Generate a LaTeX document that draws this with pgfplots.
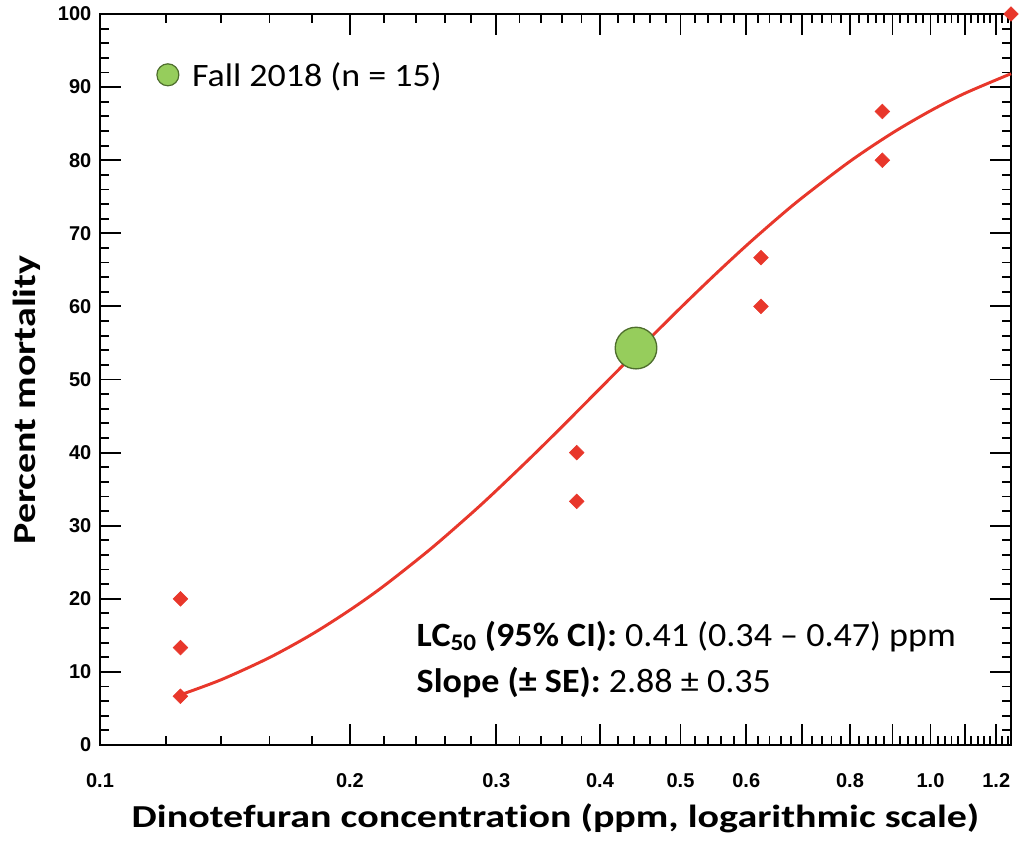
\documentclass[border=0pt]{standalone}
\usepackage{fontspec}
\setmainfont{Carlito}[Ligatures=CommonOff]
\newfontfamily\labelfont{Carlito}[Ligatures=CommonOff, FakeStretch=1.25]
\newfontfamily\legendfont{Carlito}[Ligatures=CommonOff, FakeStretch=1.1]
\newfontfamily\notefont{Carlito}[Ligatures=CommonOff, FakeStretch=1.06]
\newfontfamily\tickfont{Liberation Sans}
\usepackage{pgfplots}
\pgfplotsset{compat=1.18}
\definecolor{ptred}{RGB}{232,55,43}
\definecolor{ptgreen}{RGB}{150,205,92}
\definecolor{ptgreenedge}{RGB}{78,110,45}

\begin{document}
\begin{tikzpicture}
\begin{axis}[
  at={(0,0)}, anchor=south west,
  scale only axis, width=683.25pt, height=548.25pt,
  xmode=log, xmin=0.1, xmax=1.25, ymin=0, ymax=100,
  clip=false,
  axis line style={line width=2pt},
  tick style={line width=1.4pt, black},
  tick align=inside,
  major tick length=16pt, minor tick length=7pt,
  xtick={0.1,0.2,0.3,0.4,0.5,0.6,0.7,0.8,0.9,1.0,1.1,1.2},
  xticklabels={0.1,0.2,0.3,0.4,0.5,0.6,,0.8,,1.0,,1.2},
  minor xtick={0.12,0.14,0.16,0.18,0.22,0.24,0.26,0.28,0.32,0.34,0.36,0.38,
    0.42,0.44,0.46,0.48,0.52,0.54,0.56,0.58,0.62,0.64,0.66,0.68,0.72,0.74,0.76,0.78,
    0.82,0.84,0.86,0.88,0.92,0.94,0.96,0.98,1.02,1.04,1.06,1.08,1.12,1.14,1.16,1.18,1.22,1.24},
  ytick={0,10,...,100},
  minor ytick={2,4,6,8,12,14,16,18,22,24,26,28,32,34,36,38,42,44,46,48,52,54,56,58,
    62,64,66,68,72,74,76,78,82,84,86,88,92,94,96,98},
  /pgf/number format/assume math mode=true,
  ticklabel style={font=\tickfont\bfseries\fontsize{15}{17}\selectfont},
  yticklabel style={xshift=-3pt},
  xticklabel style={yshift=-18pt},
  xlabel={Dinotefuran concentration (ppm, logarithmic scale)},
  ylabel={Percent mortality},
  label style={font=\labelfont\bfseries\fontsize{24}{28}\selectfont},
  xlabel style={at={(axis description cs:0.5,-0.1135)}, anchor=base},
  ylabel style={at={(axis description cs:-0.0703,0.472)}, anchor=base},
  legend style={at={(axis description cs:0.0615,0.9159)}, anchor=west,
    draw=none, fill=none, inner sep=0pt, column sep=9.5pt,
    font=\legendfont\fontsize{24.5}{28}\selectfont, nodes={inner sep=0pt}},
  legend cell align=left,
  legend image code/.code={\draw[fill=ptgreen, draw=ptgreenedge, line width=0.9pt] (0pt,0.5pt) circle (8.25pt);},
]
% fitted probit dose-response curve
\addplot[ptred, line width=2.2pt, smooth, forget plot] coordinates {
  (0.125,6.87) (0.14,8.94) (0.16,11.96) (0.18,15.16) (0.2,18.47) (0.22,21.81)
  (0.25,26.81) (0.28,31.67) (0.3,34.80) (0.33,39.30) (0.36,43.54) (0.41,50.00)
  (0.45,54.63) (0.5,59.80) (0.55,64.33) (0.6,68.31) (0.65,71.78) (0.7,74.83)
  (0.8,79.85) (0.9,83.73) (1.0,86.76) (1.1,89.15) (1.25,91.83)
};
% LC50 point
\addplot[only marks, mark=*, mark size=15.6pt,
  mark options={fill=ptgreen, draw=ptgreenedge, line width=1pt}] coordinates {(0.442,54.3)};
\addlegendentry{Fall 2018 (n = 15)}
% observed mortality per replicate
\addplot[only marks, mark=square*, mark size=3.9pt, forget plot,
  mark options={rotate=45, fill=ptred, draw=ptred}] coordinates {
  (0.125,20) (0.125,13.33) (0.125,6.67)
  (0.375,40) (0.375,33.33)
  (0.625,66.67) (0.625,60)
  (0.875,86.67) (0.875,80)
  (1.25,100)
};
\node[anchor=base west, font=\notefont\fontsize{25.5}{30}\selectfont] at (axis description cs:0.3425,0.1354)
  {\textbf{LC\textsubscript{50} (95\% CI):} 0.41 (0.34 – 0.47) ppm};
\node[anchor=base west, font=\notefont\fontsize{25.5}{30}\selectfont] at (axis description cs:0.3425,0.0725)
  {\textbf{Slope (± SE):} 2.88 ± 0.35};
\end{axis}
\pgfresetboundingbox
\useasboundingbox (-75pt,-76.5pt) rectangle (690.75pt,558.75pt);
\end{tikzpicture}
\end{document}
